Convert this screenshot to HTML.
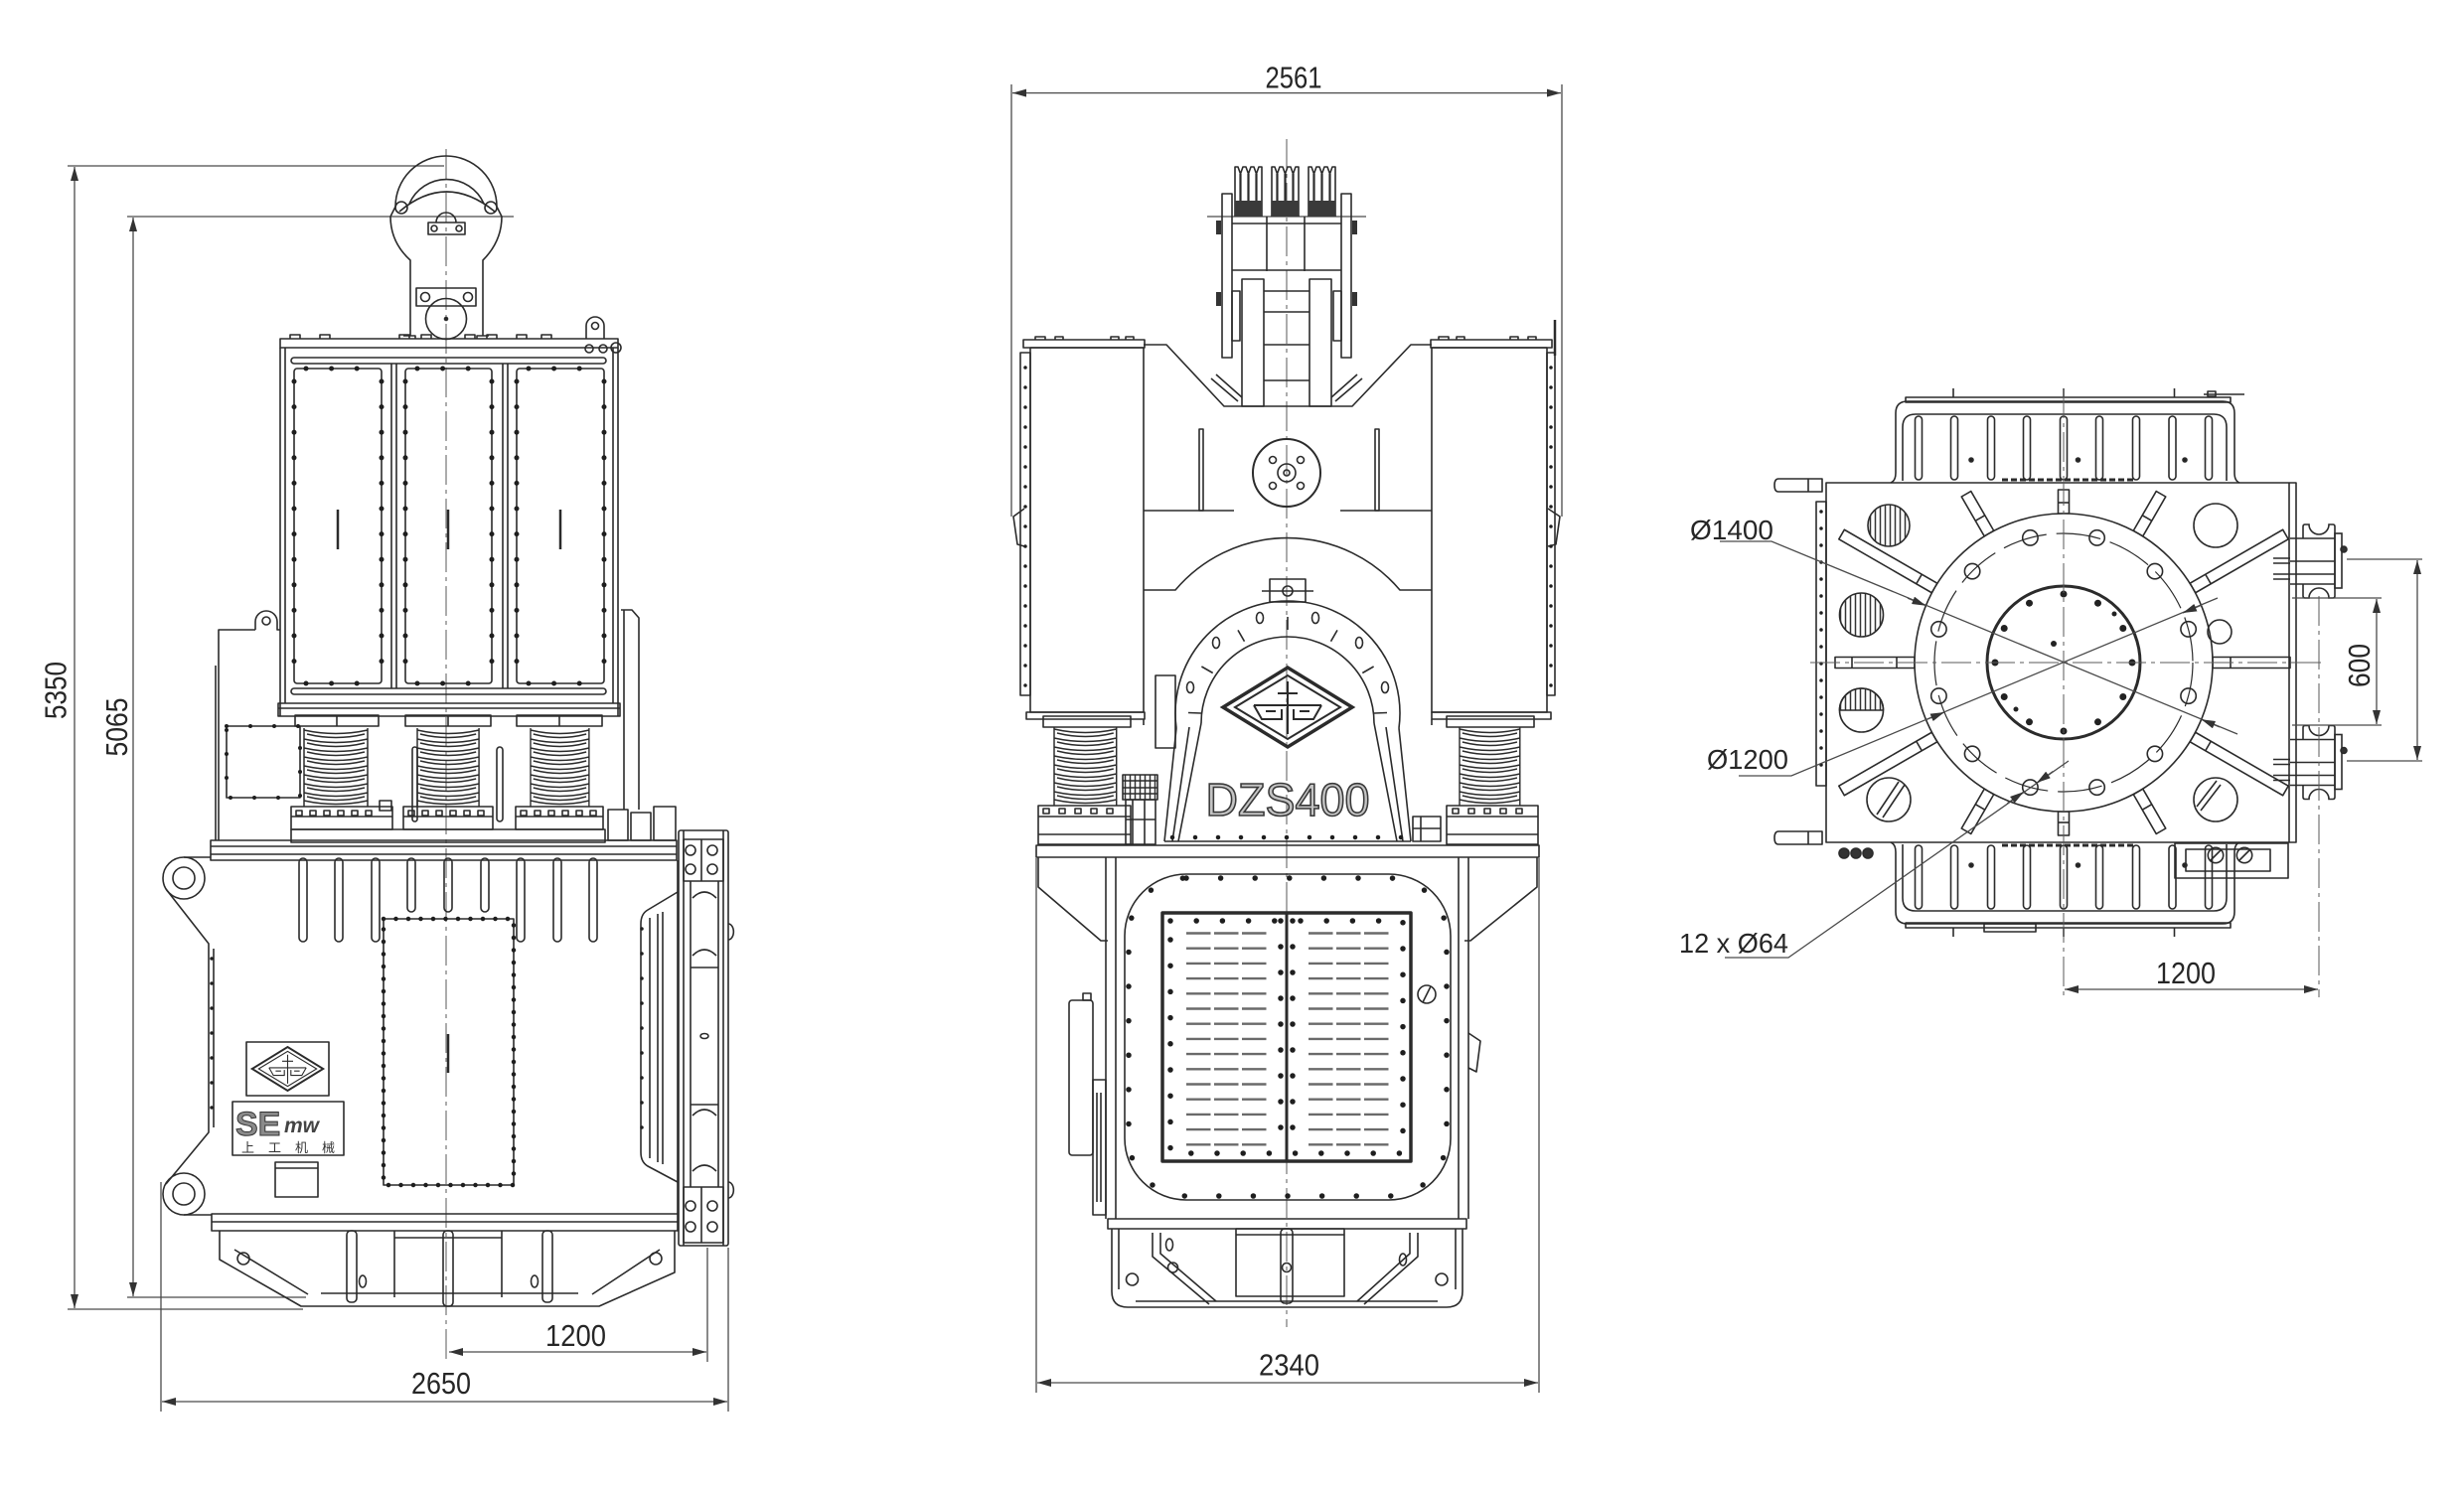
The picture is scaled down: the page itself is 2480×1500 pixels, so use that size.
<!DOCTYPE html>
<html><head><meta charset="utf-8">
<style>
html,body{margin:0;padding:0;background:#fff;}
svg{display:block}
text{font-family:"Liberation Sans","Noto Sans CJK SC",sans-serif;fill:#262626}
.dm{stroke:#4a4a4a;stroke-width:1.3;fill:none}
.cl{stroke:#5a5a5a;stroke-width:1;stroke-dasharray:30 5 4 5;fill:none}
.dt{stroke:#1e1e1e;stroke-width:5;stroke-linecap:round;fill:none}
.th{stroke-width:3}
</style></head><body>
<svg width="2480" height="1500" viewBox="0 0 2480 1500" xmlns="http://www.w3.org/2000/svg">
<defs>
<marker id="ar" markerUnits="userSpaceOnUse" markerWidth="14" markerHeight="8" refX="14" refY="4" orient="auto-start-reverse"><path d="M0,0 L14,4 L0,8 z" fill="#333"/></marker>
<pattern id="vh" width="5" height="5" patternUnits="userSpaceOnUse"><line x1="2.5" y1="0" x2="2.5" y2="5" stroke="#333" stroke-width="1.5"/></pattern>
<g id="spr" fill="none" stroke="#2b2b2b" stroke-width="1.5">
<path d="M0 0V79M64 0V79M0 2Q32 9 64 2M3 6Q32 13 61 6M0 11Q32 18 64 11M3 15Q32 22 61 15M0 20Q32 27 64 20M3 24Q32 31 61 24M0 29Q32 36 64 29M3 33Q32 40 61 33M0 38Q32 45 64 38M3 42Q32 49 61 42M0 47Q32 54 64 47M3 51Q32 58 61 51M0 56Q32 63 64 56M3 60Q32 67 61 60M0 65Q32 72 64 65M3 69Q32 76 61 69M0 73Q32 80 64 73"/>
</g>
<g id="logo" fill="none" stroke="#2b2b2b" stroke-width="2">
<polygon points="-65,0 0,-40 65,0 0,40" stroke-width="3.5"/>
<polygon points="-53,0 0,-32 53,0 0,32"/>
<path d="M-34,-2H34M0,-26V27M-10,-14H10M-34,-2L-26,12H-6V2M34,-2L26,12H6V2M-22,4H-12M22,4H12"/>
</g>
<g id="pul" fill="none" stroke="#2b2b2b" stroke-width="1.6">
<path d="M-16 -23V-35Q-16 -37 -14 -37H-10A10 10 0 0 0 10 -37H14Q16 -37 16 -35V-23"/>
<path d="M-16 23V35Q-16 37 -14 37H-10A10 10 0 0 1 10 37H14Q16 37 16 35V23"/>
<path d="M-29 -23H16M-29 23H16M-29 0H16M-29 13H16M16 -23V23"/>
<rect x="16" y="-28" width="7" height="55"/>
<circle cx="25" cy="-12" r="3" fill="#333"/>
<path d="M-46 -3H-29M-46 2H-29M-46 13H-29M-46 18H-29"/>
</g>
</defs>
<rect width="2480" height="1500" fill="#fff"/>

<!-- ================= LEFT VIEW ================= -->
<g class="dm">
<path d="M68 167H447M128 218H517M68 1318H305M128 1306H308"/>
<line x1="75" y1="168" x2="75" y2="1317" marker-start="url(#ar)" marker-end="url(#ar)"/>
<line x1="134" y1="219" x2="134" y2="1305" marker-start="url(#ar)" marker-end="url(#ar)"/>
<path d="M162 1190V1421M733 1256V1421M712 1256V1371"/>
<line x1="163" y1="1411" x2="732" y2="1411" marker-start="url(#ar)" marker-end="url(#ar)"/>
<line x1="452" y1="1361" x2="711" y2="1361" marker-start="url(#ar)" marker-end="url(#ar)"/>
</g>
<text transform="translate(66.7,695) rotate(-90)" text-anchor="middle" textLength="58" lengthAdjust="spacingAndGlyphs" style="font-size:31px">5350</text>
<text transform="translate(128,732) rotate(-90)" text-anchor="middle" textLength="59" lengthAdjust="spacingAndGlyphs" style="font-size:31px">5065</text>
<text x="444" y="1403" text-anchor="middle" textLength="60" lengthAdjust="spacingAndGlyphs" style="font-size:31px">2650</text>
<text x="579.5" y="1355" text-anchor="middle" textLength="61" lengthAdjust="spacingAndGlyphs" style="font-size:31px">1200</text>
<path class="cl" d="M449 150V1372"/>

<g fill="none" stroke="#2b2b2b" stroke-width="1.6" stroke-linejoin="round">
<!-- hook -->
<path d="M398 208A51 51 0 0 1 500 208"/>
<path d="M412 205A41 41 0 0 1 487 205"/>
<path d="M402 213Q449 173 498 213"/>
<path d="M393 218C393 238 402 252 413 262V338M505 218C505 238 496 252 486 262V338"/>
<path d="M393 218L398 208M505 218L500 208"/>
<circle cx="404" cy="209" r="6"/><circle cx="494" cy="209" r="6"/>
<path d="M439 224A10 10 0 0 1 459 224"/>
<rect x="431" y="224" width="37" height="12"/>
<circle cx="437" cy="230" r="3"/><circle cx="462" cy="230" r="3"/>
<rect x="419" y="290" width="60" height="18"/>
<circle cx="428" cy="299" r="4.5"/><circle cx="471" cy="299" r="4.5"/>
<circle cx="449" cy="321" r="20.5"/><circle cx="449" cy="321" r="1.5" fill="#222"/>
<path d="M406 338h12v3M492 338h-12v3"/>
<!-- upper box -->
<rect x="282" y="341" width="340" height="9"/>
<path d="M292 341v-4h10v4M322 341v-4h10v4M402 341v-4h10v4M424 341v-4h10v4M468 341v-4h10v4M490 341v-4h10v4M520 341v-4h10v4M545 341v-4h10v4"/>
<path d="M590 341V328A9 9 0 0 1 608 328V341"/><circle cx="599" cy="328" r="3.5"/>
<circle cx="593" cy="351" r="4"/><circle cx="607" cy="351" r="4"/><circle cx="620" cy="350" r="5"/>
<path d="M282 350V721M287 350V708M617 350V708M622 350V721"/>
<rect x="293" y="360" width="317" height="6" rx="3"/>
<rect x="296" y="371" width="88" height="317" rx="3"/>
<rect x="408" y="371" width="87" height="317" rx="3"/>
<rect x="520" y="371" width="88" height="317" rx="3"/>
<path d="M394 366V693M399 366V693M506 366V693M511 366V693"/>
<rect x="293" y="693" width="317" height="6" rx="3"/>
<rect x="280" y="708" width="344" height="13"/>
<path d="M280 713H624"/>
<path d="M340 513V553M451 513V553M564 513V553" stroke-width="2.5"/>
<!-- left side box -->
<path d="M257 634H220V846M217 670V846"/>
<path d="M257 634V626A11 11 0 0 1 279 626V634H282"/><circle cx="268" cy="625" r="4"/>
<rect x="228" y="731" width="74" height="72"/>
<!-- right strip -->
<path d="M625 614H636L643 622V815M628 614V815"/>
<!-- springs -->
<rect x="297" y="720" width="84" height="11"/><path d="M339 720V731"/>
<rect x="408" y="720" width="86" height="11"/><path d="M451 720V731"/>
<rect x="520" y="720" width="86" height="11"/><path d="M563 720V731"/>
<rect x="293" y="812" width="102" height="23"/><path d="M293 822H395"/>
<rect x="406" y="812" width="90" height="23"/><path d="M406 822H496"/>
<rect x="519" y="812" width="88" height="23"/><path d="M519 822H607"/>
<path d="M298 816h6v5h-6zM312 816h6v5h-6zM326 816h6v5h-6zM340 816h6v5h-6zM354 816h6v5h-6zM368 816h6v5h-6zM411 816h6v5h-6zM425 816h6v5h-6zM439 816h6v5h-6zM453 816h6v5h-6zM467 816h6v5h-6zM481 816h6v5h-6zM524 816h6v5h-6zM538 816h6v5h-6zM552 816h6v5h-6zM566 816h6v5h-6zM580 816h6v5h-6zM594 816h6v5h-6z"/>
<rect x="415" y="752" width="5" height="75" rx="2.5"/><rect x="500" y="752" width="6" height="75" rx="3"/>
<rect x="382" y="806" width="12" height="10"/>
<rect x="293" y="835" width="316" height="13"/>
<rect x="612" y="815" width="20" height="31"/><rect x="635" y="818" width="20" height="28"/><rect x="658" y="812" width="22" height="34"/>
<rect x="212" y="846" width="469" height="20"/><path d="M212 852H681M212 860H681"/>
<!-- main body -->
<circle cx="185" cy="884" r="21"/><circle cx="185" cy="884" r="11"/>
<circle cx="185" cy="1202" r="21"/><circle cx="185" cy="1202" r="11"/>
<path d="M185 863H212M167 895L210 950V1140L167 1192M185 1223H213"/>
<path d="M215 955V1135M682 866V1222"/>
<rect x="301" y="864" width="8" height="84" rx="4"/>
<rect x="337" y="864" width="8" height="84" rx="4"/>
<rect x="374" y="864" width="8" height="84" rx="4"/>
<rect x="410" y="864" width="8" height="54" rx="4"/>
<rect x="447" y="864" width="8" height="54" rx="4"/>
<rect x="484" y="864" width="8" height="54" rx="4"/>
<rect x="520" y="864" width="8" height="84" rx="4"/>
<rect x="557" y="864" width="8" height="84" rx="4"/>
<rect x="593" y="864" width="8" height="84" rx="4"/>
<rect x="386" y="925" width="131" height="268"/>
<path d="M451 1041V1080" stroke-width="2.5"/>
<rect x="248" y="1049" width="83" height="54"/>
<rect x="234" y="1109" width="112" height="54"/>
<rect x="277" y="1170" width="43" height="35"/><path d="M277 1176H320"/>
<!-- right clamp -->
<rect x="683" y="836" width="50" height="418" rx="2"/>
<path d="M688 836V1254M728 836V1254"/>
<rect x="688" y="845" width="40" height="42"/><path d="M706 845V887"/>
<circle cx="695" cy="856" r="5"/><circle cx="717" cy="856" r="5"/><circle cx="695" cy="875" r="5"/><circle cx="717" cy="875" r="5"/>
<rect x="688" y="1195" width="40" height="56"/><path d="M706 1195V1251"/>
<circle cx="695" cy="1214" r="5"/><circle cx="717" cy="1214" r="5"/><circle cx="695" cy="1235" r="5"/><circle cx="717" cy="1235" r="5"/>
<path d="M695 887V1195M723 887V1195M695 974H723M695 1112H723"/>
<path d="M697 904Q709 892 721 904M697 962Q709 950 721 962M697 1123Q709 1111 721 1123M697 1179Q709 1167 721 1179"/>
<ellipse cx="709" cy="1043" rx="4" ry="2.5"/>
<path d="M682 898L652 916Q645 920 645 930V1160Q645 1170 652 1174L682 1190M654 924V1166M662 920V1170M667 918V1172"/>
<path d="M733 930a4 6 0 0 1 0 16M733 1190a4 6 0 0 1 0 16"/>
<!-- bottom -->
<rect x="213" y="1222" width="469" height="17"/><path d="M213 1230H682"/>
<path d="M221 1239V1268L303 1315H603L679 1281V1239"/>
<path d="M236 1258L310 1303M664 1258L596 1303M323 1302H582"/>
<rect x="349" y="1239" width="10" height="72" rx="4"/>
<rect x="446" y="1239" width="10" height="76" rx="4"/>
<rect x="546" y="1239" width="10" height="72" rx="4"/>
<path d="M397 1239V1306M505 1239V1306M397 1246H505"/>
<circle cx="245" cy="1267" r="6"/><circle cx="660" cy="1267" r="6"/>
<ellipse cx="365" cy="1290" rx="3.5" ry="6"/><ellipse cx="538" cy="1290" rx="3.5" ry="6"/>
</g>
<!-- left view dots & springs & logo -->
<path class="dt" style="stroke-dasharray:0 25.6" d="M296 384V688M384 384V688M408 384V688M495 384V688M520 384V688M608 384V688"/>
<path class="dt" style="stroke-dasharray:0 25.6" d="M308 371H372M308 688H372M420 371H484M420 688H484M532 371H596M532 688H596"/>
<path class="dt" style="stroke-dasharray:0 12.5;stroke-width:4.5" d="M386 925H517V1193H386Z"/>
<path class="dt" style="stroke-dasharray:0 24;stroke-width:4" d="M228 731H302V803H228Z"/>
<path class="dt" style="stroke-dasharray:0 25;stroke-width:3.5" d="M213 965V1130M646 935V1160"/>
<use href="#spr" transform="translate(306,733)"/>
<use href="#spr" transform="translate(420,733) scale(0.97,1)"/>
<use href="#spr" transform="translate(534,733) scale(0.92,1)"/>
<use href="#logo" transform="translate(289.5,1076) scale(0.55)"/>
<text x="237" y="1143" style="font-size:34px;font-weight:bold;fill:#8a8a8a;stroke:#333;stroke-width:1">SE</text>
<text x="286" y="1140" style="font-size:21px;font-style:italic;font-weight:bold;fill:#444">mw</text>
<text x="243" y="1160" textLength="94" lengthAdjust="spacing" style="font-size:13px;fill:#333">上工机械</text>

<!-- ================= MIDDLE VIEW ================= -->
<g class="dm">
<path d="M1018 85V520M1572 85V520M1043 864V1402M1549 864V1402"/>
<line x1="1019" y1="93.6" x2="1571" y2="93.6" marker-start="url(#ar)" marker-end="url(#ar)"/>
<line x1="1044" y1="1392" x2="1548" y2="1392" marker-start="url(#ar)" marker-end="url(#ar)"/>
<path d="M1215 218H1375"/>
</g>
<text x="1302" y="88.5" text-anchor="middle" textLength="57" lengthAdjust="spacingAndGlyphs" style="font-size:31px">2561</text>
<text x="1297.5" y="1384.6" text-anchor="middle" textLength="61" lengthAdjust="spacingAndGlyphs" style="font-size:31px">2340</text>
<path class="cl" d="M1295 140V1336"/>

<g fill="none" stroke="#2b2b2b" stroke-width="1.6" stroke-linejoin="round">
<!-- top comb -->
<path d="M1243 218V168h3l2.5 7 2.5-7h3l2.5 7 2.5-7h3l2.5 7 2.5-7h3V218"/>
<path d="M1280 218V168h3l2.5 7 2.5-7h3l2.5 7 2.5-7h3l2.5 7 2.5-7h3V218"/>
<path d="M1317 218V168h3l2.5 7 2.5-7h3l2.5 7 2.5-7h3l2.5 7 2.5-7h3V218"/>
<path d="M1248.5 175V202M1256.5 175V202M1264.5 175V202M1285.5 175V202M1293.5 175V202M1301.5 175V202M1322.5 175V202M1330.5 175V202M1338.5 175V202" stroke-width="2.2"/>
<rect x="1230" y="195" width="10" height="165"/>
<rect x="1350" y="195" width="10" height="165"/>
<path d="M1240 225H1350M1240 272H1350M1275 218V273M1313 218V273"/>
<rect x="1240" y="293" width="8" height="50"/><rect x="1342" y="293" width="8" height="50"/>
<rect x="1250" y="281" width="22" height="128"/><rect x="1318" y="281" width="22" height="128"/>
<path d="M1272 293H1318M1272 314H1318M1272 347H1318M1272 383H1318"/>
<path d="M1219 381L1246 404M1224 377L1250 400M1371 381L1344 404M1366 377L1340 400"/>
<!-- housings -->
<rect x="1037" y="350" width="114" height="367"/>
<rect x="1030" y="342" width="122" height="8"/>
<rect x="1027" y="355" width="10" height="345"/>
<rect x="1033" y="717" width="119" height="7"/>
<rect x="1441" y="350" width="116" height="367"/>
<rect x="1440" y="342" width="122" height="8"/>
<rect x="1557" y="355" width="8" height="345"/>
<rect x="1441" y="717" width="120" height="7"/>
<path d="M1042 342v-3h10v3M1062 342v-3h8v3M1118 342v-3h8v3M1133 342v-3h8v3M1448 342v-3h10v3M1466 342v-3h8v3M1520 342v-3h8v3M1538 342v-3h8v3"/>
<path d="M1565 322V358" stroke-width="2.5"/>
<path d="M1031 512L1020 520L1024 548L1031 550M1558 512L1570 520L1566 548L1558 550"/>
<!-- central body -->
<path d="M1151 347H1174L1232 409H1361L1420 347H1441"/>
<path d="M1151 514H1242M1349 514H1441"/>
<rect x="1207" y="432" width="4" height="82"/><rect x="1384" y="432" width="4" height="82"/>
<circle cx="1295" cy="476" r="34" stroke-width="2"/>
<circle cx="1295" cy="476" r="9"/><circle cx="1295" cy="476" r="3"/>
<circle cx="1281" cy="463" r="3.5"/><circle cx="1309" cy="463" r="3.5"/><circle cx="1281" cy="489" r="3.5"/><circle cx="1309" cy="489" r="3.5"/>
<path d="M1151 594H1183A148 148 0 0 1 1409 594H1441"/>
<path d="M1151 724V730M1441 724V730"/>
<!-- gearbox -->
<rect x="1278" y="583" width="36" height="23"/><circle cx="1296" cy="595" r="5"/>
<path d="M1270 595H1322"/>
<path d="M1184 733A113 113 0 1 1 1408 733"/>
<path d="M1209 728A87 87 0 1 1 1383 728"/>
<path d="M1184 733L1172 847M1408 733L1420 847M1209 728L1186 847M1383 728L1406 847M1197 732L1180 847M1395 732L1412 847"/>
<path d="M1296 634V621M1252.5 645.7L1246 634.4M1339.5 645.7L1346 634.4M1220.7 677.5L1209.4 671M1371.3 677.5L1382.6 671M1209 718L1196 717.5M1383 718L1396 717.5"/>
<ellipse cx="1268" cy="622" rx="3.5" ry="5.5"/><ellipse cx="1324" cy="622" rx="3.5" ry="5.5"/>
<ellipse cx="1224" cy="647" rx="3.5" ry="5.5"/><ellipse cx="1368" cy="647" rx="3.5" ry="5.5"/>
<ellipse cx="1198" cy="692" rx="3.5" ry="5.5"/><ellipse cx="1394" cy="692" rx="3.5" ry="5.5"/>
<path d="M1172 847H1420"/>
<rect x="1163" y="680" width="20" height="73"/>
<rect x="1130" y="780" width="35" height="25" fill="url(#vh)"/>
<path d="M1130 786H1165M1130 793H1165M1130 799H1165"/>
<rect x="1133" y="805" width="30" height="45"/><path d="M1140 805V850M1152 805V850M1133 825H1163"/>
<rect x="1422" y="822" width="28" height="25"/><path d="M1430 822V847M1422 834H1450"/>
<!-- springs middle -->
<rect x="1050" y="721" width="88" height="11"/>
<rect x="1045" y="811" width="93" height="39"/><path d="M1045 822H1138M1045 840H1138"/>
<rect x="1456" y="721" width="88" height="11"/>
<rect x="1456" y="811" width="92" height="39"/><path d="M1456 822H1548M1456 840H1548"/>
<path d="M1050 814h6v5h-6zM1066 814h6v5h-6zM1082 814h6v5h-6zM1098 814h6v5h-6zM1114 814h6v5h-6zM1462 814h6v5h-6zM1478 814h6v5h-6zM1494 814h6v5h-6zM1510 814h6v5h-6zM1526 814h6v5h-6z"/>
<!-- main bar & box -->
<rect x="1043" y="851" width="506" height="12"/>
<path d="M1045 863V893L1108 947H1115M1547 863V893L1480 947H1474"/>
<path d="M1113 863V1227M1123 863V1227M1468 863V1227M1478 863V1227"/>
<rect x="1132" y="880" width="328" height="328" rx="62"/>
<rect x="1170" y="919" width="250" height="250" stroke-width="3.5"/>
<path d="M1295 919V1169" stroke-width="3"/>
<circle cx="1436" cy="1001" r="9"/><path d="M1432 1009L1440 993"/>
<rect x="1076" y="1007" width="24" height="156" rx="3"/>
<rect x="1100" y="1087" width="13" height="136"/>
<rect x="1090" y="1000" width="8" height="7"/>
<path d="M1104 1100V1210M1108 1100V1210"/>
<path d="M1478 1040L1490 1048L1486 1079L1478 1075"/>
<!-- base -->
<rect x="1115" y="1227" width="361" height="10"/>
<path d="M1119 1237V1300Q1119 1316 1135 1316H1456Q1472 1316 1472 1300V1237"/>
<path d="M1143 1310H1447M1126 1237V1298M1465 1237V1298"/>
<rect x="1244" y="1237" width="109" height="68"/><path d="M1244 1243H1353"/>
<rect x="1289" y="1237" width="12" height="75" rx="4"/>
<path d="M1160 1241V1265L1217 1313M1168 1241V1262L1224 1310M1427 1241V1265L1373 1313M1419 1241V1262L1366 1310"/>
<circle cx="1139.5" cy="1288" r="6"/><circle cx="1451" cy="1288" r="6"/>
<circle cx="1180.5" cy="1276" r="5"/><circle cx="1295" cy="1276" r="4.5"/>
<ellipse cx="1177" cy="1253" rx="3.5" ry="6"/><ellipse cx="1412" cy="1268" rx="3.5" ry="6"/>
</g>
<rect x="1243" y="202" width="27" height="16" fill="#3a3a3a"/>
<rect x="1280" y="202" width="27" height="16" fill="#3a3a3a"/>
<rect x="1317" y="202" width="27" height="16" fill="#3a3a3a"/>
<path d="M1224 222h5v14h-5zM1361 222h5v14h-5zM1224 294h5v14h-5zM1361 294h5v14h-5z" fill="#333"/>
<use href="#spr" transform="translate(1061,732) scale(0.98,1)"/>
<use href="#spr" transform="translate(1469,732) scale(0.95,1)"/>
<use href="#logo" transform="translate(1296,712)"/>
<text x="1296" y="821" text-anchor="middle" textLength="165" lengthAdjust="spacingAndGlyphs" style="font-size:46px;fill:#c4c4c4;stroke:#3a3a3a;stroke-width:1.6">DZS400</text>
<path class="dt" style="stroke-dasharray:0 20;stroke-width:3.5" d="M1032 370V700M1561 370V700"/>
<path class="dt" style="stroke-dasharray:0 23;stroke-width:4.5" d="M1180 843H1412"/>
<path class="dt" style="stroke-dasharray:0 34.6;stroke-width:5.5" d="M1194 884H1398A58 58 0 0 1 1456 942V1146A58 58 0 0 1 1398 1204H1194A58 58 0 0 1 1136 1146V942A58 58 0 0 1 1194 884Z"/>
<path class="dt" style="stroke-dasharray:0 26.2;stroke-width:5.5" d="M1178 927H1412V1161H1178Z"/>
<path class="dt" style="stroke-dasharray:0 26;stroke-width:5.5" d="M1289 927V1161M1301 927V1161"/>
<g stroke="#6a6a6a" stroke-width="2.4" fill="none" style="stroke-dasharray:24.5 3.5">
<path d="M1194 939.5H1276M1317 939.5H1399M1194 954.7H1276M1317 954.7H1399M1194 969.9H1276M1317 969.9H1399M1194 985.1H1276M1317 985.1H1399M1194 1000.3H1276M1317 1000.3H1399M1194 1015.5H1276M1317 1015.5H1399M1194 1030.7H1276M1317 1030.7H1399M1194 1045.9H1276M1317 1045.9H1399M1194 1061.1H1276M1317 1061.1H1399M1194 1076.3H1276M1317 1076.3H1399M1194 1091.5H1276M1317 1091.5H1399M1194 1106.7H1276M1317 1106.7H1399M1194 1121.9H1276M1317 1121.9H1399M1194 1137.1H1276M1317 1137.1H1399M1194 1152.3H1276M1317 1152.3H1399"/>
</g>

<!-- ================= RIGHT VIEW ================= -->
<g fill="none" stroke="#2b2b2b" stroke-width="1.6" stroke-linejoin="round">
<g id="rtop">
<path d="M1903 486Q1908 484 1908 476V416Q1908 404 1920 404H2237Q2249 404 2249 416V476Q2249 484 2254 486"/>
<rect x="1918" y="400" width="327" height="5"/>
<path d="M1915 484V430Q1915 417 1928 417H2228Q2241 417 2241 430V484"/>
<rect x="1927.5" y="419" width="7" height="64" rx="3.5"/>
<rect x="1963.5" y="419" width="7" height="64" rx="3.5"/>
<rect x="2000.5" y="419" width="7" height="64" rx="3.5"/>
<rect x="2036.5" y="419" width="7" height="64" rx="3.5"/>
<rect x="2073.5" y="419" width="7" height="64" rx="3.5"/>
<rect x="2109.5" y="419" width="7" height="64" rx="3.5"/>
<rect x="2146.5" y="419" width="7" height="64" rx="3.5"/>
<rect x="2183" y="419" width="7" height="64" rx="3.5"/>
<rect x="2219.5" y="419" width="7" height="64" rx="3.5"/>
<path d="M1966 391V400M2077 391V400M2188.5 391V400"/>
<circle cx="1984" cy="463" r="2" fill="#222"/><circle cx="2091.5" cy="463" r="2" fill="#222"/><circle cx="2199" cy="463" r="2" fill="#222"/>
<path d="M2015 483H2150" stroke-width="3" style="stroke-dasharray:6 3"/>
</g>
<use href="#rtop" transform="matrix(1 0 0 -1 0 1334)"/>
<path d="M2218 397H2259M2222 394h8v5h-8z"/>
<rect x="1997" y="930" width="52" height="8"/>
<!-- plate -->
<rect x="1838" y="486" width="473" height="362"/>
<path d="M2304 486V848"/>
<rect x="1828" y="505" width="10" height="286"/>
<path d="M1790 482H1834V495H1790Q1786 495 1786 488.5Q1786 482 1790 482ZM1820 482V495"/>
<path d="M1790 837H1834V850H1790Q1786 850 1786 843.5Q1786 837 1790 837ZM1820 837V850"/>
<!-- ribs -->
<g transform="rotate(0 2077 667)"><rect x="2227" y="661.5" width="78" height="11"/><line x1="2245" y1="661.5" x2="2245" y2="672.5"/></g>
<g transform="rotate(-30 2077 667)"><rect x="2227" y="661.5" width="108" height="11"/><line x1="2245" y1="661.5" x2="2245" y2="672.5"/></g>
<g transform="rotate(-60 2077 667)"><rect x="2227" y="661.5" width="46" height="11"/><line x1="2245" y1="661.5" x2="2245" y2="672.5"/></g>
<g transform="rotate(-90 2077 667)"><rect x="2227" y="661.5" width="24" height="11"/><line x1="2238" y1="661.5" x2="2238" y2="672.5"/></g>
<g transform="rotate(-120 2077 667)"><rect x="2227" y="661.5" width="46" height="11"/><line x1="2245" y1="661.5" x2="2245" y2="672.5"/></g>
<g transform="rotate(-150 2077 667)"><rect x="2227" y="661.5" width="108" height="11"/><line x1="2245" y1="661.5" x2="2245" y2="672.5"/></g>
<g transform="rotate(-180 2077 667)"><rect x="2227" y="661.5" width="80" height="11"/><line x1="2245" y1="661.5" x2="2245" y2="672.5"/><line x1="2290" y1="661.5" x2="2290" y2="672.5"/></g>
<g transform="rotate(-210 2077 667)"><rect x="2227" y="661.5" width="108" height="11"/><line x1="2245" y1="661.5" x2="2245" y2="672.5"/></g>
<g transform="rotate(-240 2077 667)"><rect x="2227" y="661.5" width="46" height="11"/><line x1="2245" y1="661.5" x2="2245" y2="672.5"/></g>
<g transform="rotate(-270 2077 667)"><rect x="2227" y="661.5" width="24" height="11"/><line x1="2238" y1="661.5" x2="2238" y2="672.5"/></g>
<g transform="rotate(-300 2077 667)"><rect x="2227" y="661.5" width="46" height="11"/><line x1="2245" y1="661.5" x2="2245" y2="672.5"/></g>
<g transform="rotate(-330 2077 667)"><rect x="2227" y="661.5" width="108" height="11"/><line x1="2245" y1="661.5" x2="2245" y2="672.5"/></g>
<!-- circles -->
<circle cx="2077" cy="667" r="150" fill="#fff"/>
<circle cx="2077" cy="667" r="130" stroke-width="1.2" style="stroke-dasharray:45 10"/>
<circle cx="2202.6" cy="633.4" r="7.7"/><circle cx="2168.9" cy="575.1" r="7.7"/><circle cx="2110.6" cy="541.4" r="7.7"/>
<circle cx="2043.4" cy="541.4" r="7.7"/><circle cx="1985.1" cy="575.1" r="7.7"/><circle cx="1951.4" cy="633.4" r="7.7"/>
<circle cx="1951.4" cy="700.6" r="7.7"/><circle cx="1985.1" cy="758.9" r="7.7"/><circle cx="2043.4" cy="792.6" r="7.7"/>
<circle cx="2110.6" cy="792.6" r="7.7"/><circle cx="2168.9" cy="758.9" r="7.7"/><circle cx="2202.6" cy="700.6" r="7.7"/>
<circle cx="2077" cy="667" r="77" stroke-width="3"/>
<!-- openings -->
<circle cx="1901" cy="529" r="21" fill="url(#vh)"/>
<circle cx="1873.5" cy="619" r="22" fill="url(#vh)"/>
<circle cx="1873.5" cy="715" r="22"/>
<path d="M1851.5 715A22 22 0 0 1 1895.5 715Z" fill="url(#vh)"/>
<circle cx="1901" cy="805" r="22"/><path d="M1889 820L1911 787M1895 823L1917 790"/>
<circle cx="2230" cy="529" r="22"/>
<circle cx="2230" cy="805" r="22"/><path d="M2211 812L2231 786M2215 816L2235 790"/>
<circle cx="2234" cy="636" r="12"/>
<!-- bottom extras -->
<rect x="2189" y="849" width="114" height="35"/>
<rect x="2200" y="855" width="85" height="22"/>
<circle cx="2230" cy="861" r="7.7"/><circle cx="2259" cy="861" r="7.7"/>
<path d="M2224 867L2236 855M2253 867L2265 855"/>
<circle cx="1856" cy="859" r="5" fill="#333"/><circle cx="1868" cy="859" r="5" fill="#333"/><circle cx="1880" cy="859" r="5" fill="#333"/>
</g>
<circle cx="2146" cy="667" r="3.5" fill="#222"/><circle cx="2136.8" cy="632.5" r="3.5" fill="#222"/><circle cx="2111.5" cy="607.2" r="3.5" fill="#222"/>
<circle cx="2077" cy="598" r="3.5" fill="#222"/><circle cx="2042.5" cy="607.2" r="3.5" fill="#222"/><circle cx="2017.2" cy="632.5" r="3.5" fill="#222"/>
<circle cx="2008" cy="667" r="3.5" fill="#222"/><circle cx="2017.2" cy="701.5" r="3.5" fill="#222"/><circle cx="2042.5" cy="726.8" r="3.5" fill="#222"/>
<circle cx="2077" cy="736" r="3.5" fill="#222"/><circle cx="2111.5" cy="726.8" r="3.5" fill="#222"/><circle cx="2136.8" cy="701.5" r="3.5" fill="#222"/>
<circle cx="2067" cy="648" r="3" fill="#222"/><circle cx="2128" cy="618" r="2.5" fill="#222"/><circle cx="2029" cy="714" r="2.5" fill="#222"/>
<path class="dt" style="stroke-dasharray:0 17;stroke-width:3.5" d="M1833 515V785"/>
<use href="#pul" transform="translate(2334,565)"/>
<use href="#pul" transform="translate(2334,767.5)"/>
<!-- centerlines -->
<path class="cl" d="M1822 667H2336M2077 391V1004M2334 600V1004"/>
<!-- leaders -->
<g class="dm">
<path d="M1731 545H1783L2252 739"/>
<path d="M1750 781H1803L2232 602"/>
<path d="M1736 964H1800L2082 766"/>
<line x1="1920" y1="602.1" x2="1938.4" y2="609.7" marker-end="url(#ar)"/>
<line x1="2234" y1="731.9" x2="2215.6" y2="724.3" marker-end="url(#ar)"/>
<line x1="1938.5" y1="724.7" x2="1957" y2="717" marker-end="url(#ar)"/>
<line x1="2215.5" y1="609.3" x2="2197" y2="617" marker-end="url(#ar)"/>
<line x1="2020.4" y1="808.7" x2="2036.8" y2="797.2" marker-end="url(#ar)"/>
<line x1="2066.4" y1="776.5" x2="2050" y2="788" marker-end="url(#ar)"/>
<!-- dims -->
<line x1="2078" y1="996" x2="2333" y2="996" marker-start="url(#ar)" marker-end="url(#ar)"/>
<path d="M2307 602H2397M2307 730H2397M2362 563H2438M2362 766H2438"/>
<line x1="2392" y1="603" x2="2392" y2="729" marker-start="url(#ar)" marker-end="url(#ar)"/>
<line x1="2433" y1="564" x2="2433" y2="765" marker-start="url(#ar)" marker-end="url(#ar)"/>
</g>
<text x="1701" y="543" textLength="84" lengthAdjust="spacingAndGlyphs" style="font-size:28px">Ø1400</text>
<text x="1718" y="774" textLength="82" lengthAdjust="spacingAndGlyphs" style="font-size:28px">Ø1200</text>
<text x="1690" y="959" textLength="110" lengthAdjust="spacingAndGlyphs" style="font-size:28px">12 x Ø64</text>
<text x="2200" y="990" text-anchor="middle" textLength="60" lengthAdjust="spacingAndGlyphs" style="font-size:31px">1200</text>
<text transform="translate(2385,670) rotate(-90)" text-anchor="middle" textLength="44" lengthAdjust="spacingAndGlyphs" style="font-size:31px">600</text>
</svg>
</body></html>
